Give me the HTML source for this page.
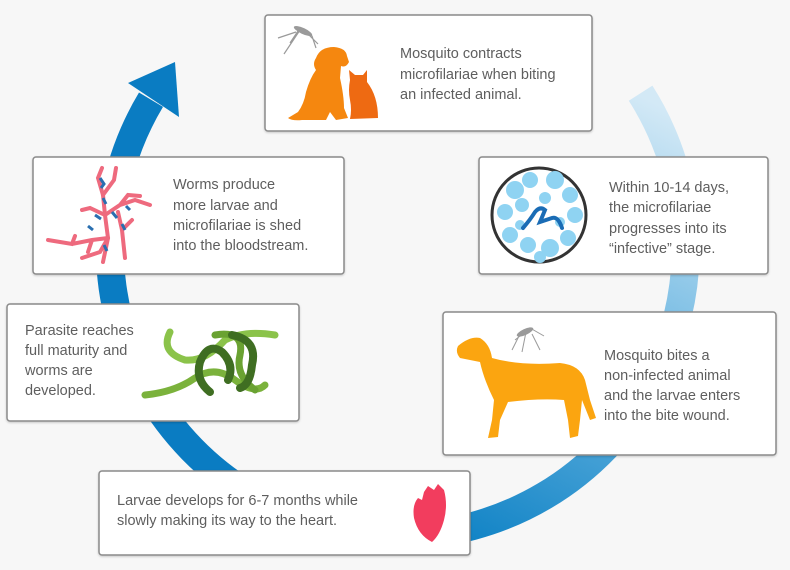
<!DOCTYPE html>
<html><head><meta charset="utf-8"><style>
html,body{margin:0;padding:0;background:#f7f7f7;}
svg{display:block}
text{font-family:"Liberation Sans",sans-serif;font-size:14.5px;fill:#5e5e5e;}
</style></head><body>
<svg width="790" height="570" viewBox="0 0 790 570" xmlns="http://www.w3.org/2000/svg">
<defs>
<linearGradient id="g1" gradientUnits="userSpaceOnUse" x1="640" y1="96" x2="420" y2="536">
<stop offset="0" stop-color="#d3e9f6"/><stop offset="0.45" stop-color="#6fb8e2"/><stop offset="1" stop-color="#0b80c4"/></linearGradient>
<filter id="sh" x="-5%" y="-5%" width="110%" height="115%"><feDropShadow dx="0" dy="1" stdDeviation="1" flood-color="#000" flood-opacity="0.2"/></filter>
</defs>
<rect width="790" height="570" fill="#f7f7f7"/>
<path d="M640.6 93.2 A288 288 0 0 1 398 536" fill="none" stroke="url(#g1)" stroke-width="28"/>
<path d="M398 536 A288 288 0 0 1 151 99.7" fill="none" stroke="#0a7cc2" stroke-width="28"/>
<polygon points="128,83 179,117 175,62" fill="#0a7cc2"/>

<g fill="#fff" stroke="#8a8a8a" stroke-width="1.5" filter="url(#sh)">
<rect x="265" y="15" width="327" height="116" rx="3"/>
<rect x="33" y="157" width="311" height="117" rx="3"/>
<rect x="479" y="157" width="289" height="117" rx="3"/>
<rect x="7" y="304" width="292" height="117" rx="3"/>
<rect x="443" y="312" width="333" height="143" rx="3"/>
<rect x="99" y="471" width="371" height="84" rx="3"/>
</g>

<g stroke="#9a9a9a" stroke-width="1.2" fill="none">
<path d="M290 43 L300 28 L312 36 L316 48 M296 32 L278 38 M300 30 L284 54 M308 34 L318 44"/>
</g>
<ellipse cx="303" cy="31" rx="10" ry="3" fill="#9a9a9a" transform="rotate(25 303 31)"/>
<path d="M316 58 Q320 47 334 47 Q346 48 347 56 L349 62 Q346 68 341 66 L340 78 Q344 96 344 108 L348 118 L336 120 L330 112 L326 120 L302 120 Q292 121 288 118 L298 112 Q304 104 306 92 Q310 78 316 70 Q312 64 316 58Z" fill="#f5870f"/>
<path d="M350 80 L349 70 L355 75 L363 75 L367 70 L367 82 Q378 96 378 118 L350 119 Q352 110 350 100 Q348 90 350 80Z" fill="#ee6a12"/>
<text x="400" y="58">Mosquito contracts</text>
<text x="400" y="79">microfilariae when biting</text>
<text x="400" y="99">an infected animal.</text>

<g stroke="#ee6a7e" stroke-width="4" stroke-linecap="round" fill="none">
<path d="M103 262 L108 238 L105 215 L103 195 L98 178 L102 168"/>
<path d="M103 195 L114 180 L116 168"/>
<path d="M105 215 L90 208 L82 210 M105 215 L120 205 L135 200 L150 205 M120 205 L128 195 L140 196"/>
<path d="M108 238 L92 240 L72 244 L48 240 M92 240 L88 252 M72 244 L75 236"/>
<path d="M118 212 L122 230 L125 258 M122 230 L132 220"/>
<path d="M108 238 L100 252 L82 258"/>
</g>
<g stroke="#2a6fb0" stroke-width="3" fill="none"><path d="M100 178 l4 6 -3 4 M103 198 l3 6 M95 215 l6 4 M112 212 l5 6 M88 226 l5 4 M104 245 l3 6 M126 206 l4 4 M122 224 l3 6"/></g>
<text x="173" y="189">Worms produce</text>
<text x="173" y="210">more larvae and</text>
<text x="173" y="230">microfilariae is shed</text>
<text x="173" y="250">into the bloodstream.</text>

<circle cx="539" cy="215" r="47" fill="#fff" stroke="#333" stroke-width="3"/>
<g fill="#8fd3f2">
<circle cx="515" cy="190" r="9"/><circle cx="530" cy="180" r="8"/><circle cx="555" cy="180" r="9"/><circle cx="570" cy="195" r="8"/>
<circle cx="505" cy="212" r="8"/><circle cx="522" cy="205" r="7"/><circle cx="545" cy="198" r="6"/><circle cx="575" cy="215" r="8"/>
<circle cx="510" cy="235" r="8"/><circle cx="528" cy="245" r="8"/><circle cx="550" cy="248" r="9"/><circle cx="568" cy="238" r="8"/>
<circle cx="540" cy="257" r="6"/><circle cx="520" cy="225" r="5"/><circle cx="560" cy="222" r="5"/>
</g>
<path d="M523 228 Q530 220 535 212 Q540 206 545 210 L540 222 L552 218 Q558 216 562 228" fill="none" stroke="#1a6cb5" stroke-width="4" stroke-linecap="round"/>
<text x="609" y="192">Within 10-14 days,</text>
<text x="609" y="212">the microfilariae</text>
<text x="609" y="233">progresses into its</text>
<text x="609" y="253">“infective” stage.</text>

<g fill="none" stroke-linecap="round">
<path d="M170 332 Q160 352 185 360 Q205 362 225 340 Q245 330 275 335" stroke="#8bc34a" stroke-width="7"/>
<path d="M145 395 Q175 392 195 378 Q215 365 235 380 Q255 395 265 385" stroke="#7bb23c" stroke-width="7"/>
<path d="M215 335 Q245 330 240 355 Q235 375 255 390" stroke="#6aa232" stroke-width="7"/>
<path d="M210 392 Q195 380 200 362 Q208 342 222 352 Q235 365 228 380 M232 335 Q258 340 252 365 Q250 385 240 388" stroke="#3f6e22" stroke-width="8"/>
</g>
<text x="25" y="335">Parasite reaches</text>
<text x="25" y="355">full maturity and</text>
<text x="25" y="375">worms are</text>
<text x="25" y="395">developed.</text>

<path d="M458 346 Q470 336 480 338 Q490 344 492 358 Q520 366 560 363 Q580 365 585 380 L590 400 L596 418 L590 420 L582 400 L580 420 L578 436 L570 438 L568 420 L564 400 Q540 398 508 402 L500 420 L498 437 L488 438 L492 420 L494 400 Q484 380 480 362 Q470 360 460 358 Q455 352 458 346Z" fill="#fba510"/>
<g stroke="#9a9a9a" stroke-width="1" fill="none"><path d="M515 340 L530 328 L544 336 M520 334 L512 350 M526 332 L522 352 M532 334 L540 350"/></g>
<ellipse cx="525" cy="332" rx="9" ry="3" fill="#9a9a9a" transform="rotate(-25 525 332)"/>
<text x="604" y="360">Mosquito bites a</text>
<text x="604" y="380">non-infected animal</text>
<text x="604" y="400">and the larvae enters</text>
<text x="604" y="420">into the bite wound.</text>

<path d="M424 492 L428 486 L434 490 L438 484 L444 490 Q448 505 444 520 Q440 535 432 542 Q418 535 414 518 Q412 505 418 498 L422 500Z" fill="#f23d5e"/>
<text x="117" y="505">Larvae develops for 6-7 months while</text>
<text x="117" y="525">slowly making its way to the heart.</text>
</svg>
</body></html>
